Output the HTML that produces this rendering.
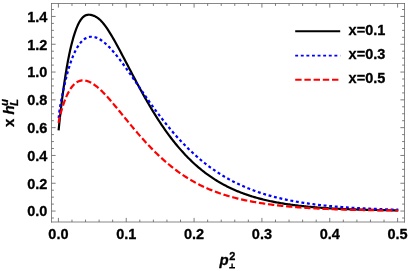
<!DOCTYPE html>
<html><head><meta charset="utf-8"><title>plot</title>
<style>
html,body{margin:0;padding:0;background:#fff;}
body{width:409px;height:271px;overflow:hidden;font-family:"Liberation Sans",sans-serif;}
svg{display:block;will-change:transform;}
text{font-family:"Liberation Sans",sans-serif;font-weight:bold;fill:#000;stroke:#000;stroke-width:0.3px;stroke-linejoin:round;}
</style></head><body>
<svg width="409" height="271" viewBox="0 0 409 271">
<rect x="0" y="0" width="409" height="271" fill="#fff"/>
<clipPath id="c"><rect x="51.5" y="3.5" width="353.0" height="218.5"/></clipPath>
<g clip-path="url(#c)" fill="none" stroke-linejoin="round">
<path d="M58.60,130.39 L58.95,126.79 L59.30,123.44 L59.64,120.18 L59.99,117.00 L60.34,113.90 L60.69,110.87 L61.03,107.90 L61.38,105.00 L61.73,102.16 L62.08,99.39 L62.42,96.67 L62.77,94.02 L63.12,91.43 L63.47,88.89 L63.81,86.41 L64.16,83.99 L64.51,81.62 L64.86,79.31 L65.20,77.05 L65.55,74.84 L65.90,72.69 L66.25,70.58 L66.59,68.53 L66.94,66.52 L67.29,64.57 L67.64,62.66 L67.98,60.80 L68.33,58.98 L68.68,57.22 L69.03,55.49 L69.38,53.81 L69.72,52.18 L70.07,50.59 L70.42,49.04 L70.77,47.53 L71.11,46.06 L71.46,44.64 L71.81,43.25 L72.16,41.91 L73.25,37.93 L74.34,34.32 L75.43,31.07 L76.52,28.15 L77.61,25.56 L78.70,23.28 L79.79,21.31 L80.88,19.62 L81.97,18.22 L83.06,17.08 L84.15,16.20 L85.24,15.54 L86.33,15.09 L87.42,14.83 L88.52,14.72 L89.61,14.75 L90.70,14.89 L91.79,15.13 L92.88,15.45 L93.97,15.86 L95.06,16.35 L96.15,16.94 L97.24,17.62 L98.33,18.40 L99.42,19.29 L100.51,20.30 L101.60,21.41 L102.69,22.64 L103.78,23.97 L104.87,25.39 L105.96,26.89 L107.06,28.47 L108.15,30.12 L109.24,31.83 L110.33,33.60 L111.42,35.41 L112.51,37.26 L113.60,39.15 L114.69,41.07 L115.78,43.02 L116.87,45.00 L117.96,47.00 L119.05,49.02 L120.14,51.06 L121.23,53.11 L122.32,55.17 L123.41,57.25 L124.50,59.33 L125.60,61.41 L126.69,63.50 L127.78,65.60 L128.87,67.69 L129.96,69.78 L131.05,71.86 L132.14,73.94 L133.23,76.02 L134.32,78.09 L135.41,80.14 L136.50,82.19 L137.59,84.23 L138.68,86.25 L139.77,88.27 L140.86,90.26 L141.95,92.25 L143.05,94.21 L144.14,96.17 L145.23,98.10 L146.32,100.02 L147.41,101.92 L148.50,103.80 L149.59,105.66 L150.68,107.50 L151.77,109.32 L152.86,111.12 L153.95,112.90 L155.04,114.66 L156.13,116.40 L157.22,118.12 L158.31,119.82 L159.40,121.49 L160.49,123.14 L161.59,124.78 L162.68,126.38 L163.77,127.97 L164.86,129.54 L165.95,131.08 L167.04,132.60 L168.13,134.10 L169.22,135.58 L170.31,137.03 L171.40,138.46 L172.49,139.87 L173.58,141.26 L174.67,142.63 L175.76,143.97 L176.85,145.30 L177.94,146.60 L179.03,147.88 L180.13,149.14 L181.22,150.38 L182.31,151.60 L183.40,152.80 L184.49,153.98 L185.58,155.14 L186.67,156.28 L187.76,157.40 L188.85,158.49 L189.94,159.57 L191.03,160.63 L192.12,161.68 L193.21,162.70 L194.30,163.70 L195.39,164.69 L196.48,165.66 L197.58,166.61 L198.67,167.54 L199.76,168.46 L200.85,169.36 L201.94,170.24 L203.03,171.10 L204.12,171.95 L205.21,172.79 L206.30,173.60 L207.39,174.40 L208.48,175.19 L209.57,175.96 L210.66,176.71 L211.75,177.45 L212.84,178.18 L213.93,178.89 L215.02,179.59 L216.12,180.27 L217.21,180.94 L218.30,181.60 L219.39,182.25 L220.48,182.88 L221.57,183.49 L222.66,184.10 L223.75,184.69 L224.84,185.27 L225.93,185.84 L227.02,186.40 L228.11,186.95 L229.20,187.48 L230.29,188.01 L231.38,188.52 L232.47,189.02 L233.56,189.51 L234.66,189.99 L235.75,190.46 L236.84,190.93 L237.93,191.38 L239.02,191.82 L240.11,192.25 L241.20,192.68 L242.29,193.09 L243.38,193.50 L244.47,193.89 L245.56,194.28 L246.65,194.66 L247.74,195.03 L248.83,195.40 L249.92,195.75 L251.01,196.10 L252.11,196.44 L253.20,196.77 L254.29,197.10 L255.38,197.42 L256.47,197.73 L257.56,198.04 L258.65,198.33 L259.74,198.63 L260.83,198.91 L261.92,199.19 L263.01,199.46 L264.10,199.73 L265.19,199.99 L266.28,200.25 L267.37,200.49 L268.46,200.74 L269.55,200.98 L270.65,201.21 L271.74,201.44 L272.83,201.66 L273.92,201.88 L275.01,202.09 L276.10,202.30 L277.19,202.50 L278.28,202.70 L279.37,202.89 L280.46,203.08 L281.55,203.27 L282.64,203.45 L283.73,203.63 L284.82,203.80 L285.91,203.97 L287.00,204.13 L288.09,204.29 L289.19,204.45 L290.28,204.61 L291.37,204.76 L292.46,204.90 L293.55,205.05 L294.64,205.19 L295.73,205.32 L296.82,205.46 L297.91,205.59 L299.00,205.72 L300.09,205.84 L301.18,205.96 L302.27,206.08 L303.36,206.20 L304.45,206.31 L305.54,206.42 L306.64,206.53 L307.73,206.64 L308.82,206.74 L309.91,206.84 L311.00,206.94 L312.09,207.03 L313.18,207.13 L314.27,207.22 L315.36,207.31 L316.45,207.40 L317.54,207.48 L318.63,207.57 L319.72,207.65 L320.81,207.73 L321.90,207.80 L322.99,207.88 L324.08,207.95 L325.18,208.02 L326.27,208.09 L327.36,208.16 L328.45,208.23 L329.54,208.30 L330.63,208.36 L331.72,208.42 L332.81,208.48 L333.90,208.54 L334.99,208.60 L336.08,208.66 L337.17,208.71 L338.26,208.77 L339.35,208.82 L340.44,208.87 L341.53,208.92 L342.62,208.97 L343.72,209.02 L344.81,209.06 L345.90,209.11 L346.99,209.15 L348.08,209.20 L349.17,209.24 L350.26,209.28 L351.35,209.32 L352.44,209.36 L353.53,209.40 L354.62,209.43 L355.71,209.47 L356.80,209.51 L357.89,209.54 L358.98,209.57 L360.07,209.61 L361.17,209.64 L362.26,209.67 L363.35,209.70 L364.44,209.73 L365.53,209.76 L366.62,209.79 L367.71,209.82 L368.80,209.84 L369.89,209.87 L370.98,209.90 L372.07,209.92 L373.16,209.95 L374.25,209.97 L375.34,209.99 L376.43,210.02 L377.52,210.04 L378.61,210.06 L379.71,210.08 L380.80,210.10 L381.89,210.12 L382.98,210.14 L384.07,210.16 L385.16,210.18 L386.25,210.20 L387.34,210.21 L388.43,210.23 L389.52,210.25 L390.61,210.27 L391.70,210.28 L392.79,210.30 L393.88,210.31 L394.97,210.33 L396.06,210.34 L397.15,210.36 L398.25,210.37" stroke="#000" stroke-width="2.2"/>
<path d="M58.60,120.13 L58.95,114.87 L59.30,111.91 L59.64,109.41 L59.99,107.17 L60.34,105.12 L60.69,103.20 L61.03,101.37 L61.38,99.61 L61.73,97.89 L62.08,96.20 L62.42,94.54 L62.77,92.88 L63.12,91.25 L63.47,89.63 L63.81,88.03 L64.16,86.46 L64.51,84.90 L64.86,83.38 L65.20,81.89 L65.55,80.42 L65.90,78.99 L66.25,77.59 L66.59,76.22 L66.94,74.89 L67.29,73.58 L67.64,72.31 L67.98,71.06 L68.33,69.85 L68.68,68.67 L69.03,67.51 L69.38,66.38 L69.72,65.28 L70.07,64.21 L70.42,63.17 L70.77,62.15 L71.11,61.15 L71.46,60.19 L71.81,59.24 L72.16,58.33 L73.25,55.60 L74.34,53.10 L75.43,50.82 L76.52,48.75 L77.61,46.87 L78.70,45.18 L79.79,43.67 L80.88,42.33 L81.97,41.16 L83.06,40.13 L84.15,39.26 L85.24,38.53 L86.33,37.93 L87.42,37.46 L88.52,37.11 L89.61,36.88 L90.70,36.75 L91.79,36.73 L92.88,36.81 L93.97,36.99 L95.06,37.25 L96.15,37.60 L97.24,38.04 L98.33,38.54 L99.42,39.13 L100.51,39.78 L101.60,40.50 L102.69,41.28 L103.78,42.12 L104.87,43.01 L105.96,43.97 L107.06,44.97 L108.15,46.02 L109.24,47.11 L110.33,48.25 L111.42,49.44 L112.51,50.66 L113.60,51.91 L114.69,53.20 L115.78,54.52 L116.87,55.87 L117.96,57.25 L119.05,58.66 L120.14,60.09 L121.23,61.54 L122.32,63.01 L123.41,64.49 L124.50,66.00 L125.60,67.52 L126.69,69.05 L127.78,70.60 L128.87,72.15 L129.96,73.71 L131.05,75.28 L132.14,76.86 L133.23,78.44 L134.32,80.03 L135.41,81.61 L136.50,83.20 L137.59,84.79 L138.68,86.38 L139.77,87.96 L140.86,89.55 L141.95,91.12 L143.05,92.70 L144.14,94.27 L145.23,95.84 L146.32,97.39 L147.41,98.95 L148.50,100.49 L149.59,102.02 L150.68,103.55 L151.77,105.07 L152.86,106.58 L153.95,108.07 L155.04,109.56 L156.13,111.04 L157.22,112.50 L158.31,113.96 L159.40,115.40 L160.49,116.83 L161.59,118.25 L162.68,119.65 L163.77,121.04 L164.86,122.42 L165.95,123.78 L167.04,125.14 L168.13,126.47 L169.22,127.80 L170.31,129.11 L171.40,130.40 L172.49,131.69 L173.58,132.95 L174.67,134.21 L175.76,135.45 L176.85,136.67 L177.94,137.88 L179.03,139.08 L180.13,140.26 L181.22,141.42 L182.31,142.58 L183.40,143.71 L184.49,144.84 L185.58,145.95 L186.67,147.04 L187.76,148.12 L188.85,149.19 L189.94,150.24 L191.03,151.27 L192.12,152.30 L193.21,153.31 L194.30,154.30 L195.39,155.28 L196.48,156.25 L197.58,157.20 L198.67,158.14 L199.76,159.07 L200.85,159.98 L201.94,160.88 L203.03,161.76 L204.12,162.64 L205.21,163.50 L206.30,164.34 L207.39,165.18 L208.48,166.00 L209.57,166.81 L210.66,167.60 L211.75,168.39 L212.84,169.16 L213.93,169.92 L215.02,170.66 L216.12,171.40 L217.21,172.12 L218.30,172.84 L219.39,173.54 L220.48,174.23 L221.57,174.90 L222.66,175.57 L223.75,176.23 L224.84,176.87 L225.93,177.51 L227.02,178.13 L228.11,178.75 L229.20,179.35 L230.29,179.94 L231.38,180.53 L232.47,181.10 L233.56,181.66 L234.66,182.22 L235.75,182.76 L236.84,183.30 L237.93,183.82 L239.02,184.34 L240.11,184.85 L241.20,185.35 L242.29,185.84 L243.38,186.32 L244.47,186.79 L245.56,187.26 L246.65,187.72 L247.74,188.16 L248.83,188.60 L249.92,189.04 L251.01,189.46 L252.11,189.88 L253.20,190.29 L254.29,190.69 L255.38,191.09 L256.47,191.48 L257.56,191.86 L258.65,192.23 L259.74,192.60 L260.83,192.96 L261.92,193.32 L263.01,193.66 L264.10,194.00 L265.19,194.34 L266.28,194.67 L267.37,194.99 L268.46,195.31 L269.55,195.62 L270.65,195.92 L271.74,196.22 L272.83,196.52 L273.92,196.80 L275.01,197.09 L276.10,197.36 L277.19,197.64 L278.28,197.90 L279.37,198.16 L280.46,198.42 L281.55,198.67 L282.64,198.92 L283.73,199.16 L284.82,199.40 L285.91,199.63 L287.00,199.86 L288.09,200.09 L289.19,200.31 L290.28,200.52 L291.37,200.73 L292.46,200.94 L293.55,201.15 L294.64,201.35 L295.73,201.54 L296.82,201.73 L297.91,201.92 L299.00,202.11 L300.09,202.29 L301.18,202.46 L302.27,202.64 L303.36,202.81 L304.45,202.98 L305.54,203.14 L306.64,203.30 L307.73,203.46 L308.82,203.61 L309.91,203.76 L311.00,203.91 L312.09,204.06 L313.18,204.20 L314.27,204.34 L315.36,204.47 L316.45,204.61 L317.54,204.74 L318.63,204.87 L319.72,204.99 L320.81,205.12 L321.90,205.24 L322.99,205.36 L324.08,205.47 L325.18,205.59 L326.27,205.70 L327.36,205.81 L328.45,205.92 L329.54,206.02 L330.63,206.12 L331.72,206.22 L332.81,206.32 L333.90,206.42 L334.99,206.51 L336.08,206.61 L337.17,206.70 L338.26,206.79 L339.35,206.87 L340.44,206.96 L341.53,207.04 L342.62,207.12 L343.72,207.20 L344.81,207.28 L345.90,207.36 L346.99,207.44 L348.08,207.51 L349.17,207.58 L350.26,207.65 L351.35,207.72 L352.44,207.79 L353.53,207.86 L354.62,207.92 L355.71,207.98 L356.80,208.05 L357.89,208.11 L358.98,208.17 L360.07,208.23 L361.17,208.28 L362.26,208.34 L363.35,208.40 L364.44,208.45 L365.53,208.50 L366.62,208.55 L367.71,208.60 L368.80,208.65 L369.89,208.70 L370.98,208.75 L372.07,208.80 L373.16,208.84 L374.25,208.89 L375.34,208.93 L376.43,208.97 L377.52,209.01 L378.61,209.06 L379.71,209.10 L380.80,209.13 L381.89,209.17 L382.98,209.21 L384.07,209.25 L385.16,209.28 L386.25,209.32 L387.34,209.35 L388.43,209.39 L389.52,209.42 L390.61,209.45 L391.70,209.48 L392.79,209.51 L393.88,209.54 L394.97,209.57 L396.06,209.60 L397.15,209.63 L398.25,209.66" stroke="#0000ff" stroke-width="2.2" stroke-dasharray="2.9 2.7" stroke-dashoffset="3.6"/>
<path d="M58.60,122.95 L58.95,120.69 L59.30,119.04 L59.64,117.51 L59.99,116.07 L60.34,114.69 L60.69,113.36 L61.03,112.07 L61.38,110.83 L61.73,109.63 L62.08,108.46 L62.42,107.33 L62.77,106.23 L63.12,105.17 L63.47,104.14 L63.81,103.13 L64.16,102.16 L64.51,101.22 L64.86,100.30 L65.20,99.41 L65.55,98.55 L65.90,97.71 L66.25,96.90 L66.59,96.12 L66.94,95.36 L67.29,94.62 L67.64,93.90 L67.98,93.21 L68.33,92.55 L68.68,91.90 L69.03,91.27 L69.38,90.67 L69.72,90.09 L70.07,89.53 L70.42,88.99 L70.77,88.47 L71.11,87.96 L71.46,87.48 L71.81,87.02 L72.16,86.57 L73.25,85.29 L74.34,84.18 L75.43,83.23 L76.52,82.43 L77.61,81.77 L78.70,81.25 L79.79,80.86 L80.88,80.58 L81.97,80.42 L83.06,80.37 L84.15,80.41 L85.24,80.55 L86.33,80.79 L87.42,81.10 L88.52,81.49 L89.61,81.96 L90.70,82.50 L91.79,83.10 L92.88,83.77 L93.97,84.49 L95.06,85.27 L96.15,86.10 L97.24,86.98 L98.33,87.91 L99.42,88.87 L100.51,89.88 L101.60,90.92 L102.69,92.00 L103.78,93.11 L104.87,94.24 L105.96,95.41 L107.06,96.60 L108.15,97.81 L109.24,99.04 L110.33,100.29 L111.42,101.55 L112.51,102.83 L113.60,104.12 L114.69,105.43 L115.78,106.74 L116.87,108.06 L117.96,109.38 L119.05,110.71 L120.14,112.05 L121.23,113.39 L122.32,114.72 L123.41,116.06 L124.50,117.40 L125.60,118.74 L126.69,120.07 L127.78,121.40 L128.87,122.73 L129.96,124.05 L131.05,125.36 L132.14,126.67 L133.23,127.97 L134.32,129.27 L135.41,130.55 L136.50,131.83 L137.59,133.10 L138.68,134.36 L139.77,135.61 L140.86,136.85 L141.95,138.08 L143.05,139.30 L144.14,140.50 L145.23,141.70 L146.32,142.88 L147.41,144.06 L148.50,145.22 L149.59,146.36 L150.68,147.50 L151.77,148.62 L152.86,149.73 L153.95,150.83 L155.04,151.91 L156.13,152.98 L157.22,154.04 L158.31,155.08 L159.40,156.11 L160.49,157.13 L161.59,158.13 L162.68,159.12 L163.77,160.09 L164.86,161.06 L165.95,162.01 L167.04,162.94 L168.13,163.86 L169.22,164.77 L170.31,165.66 L171.40,166.54 L172.49,167.41 L173.58,168.27 L174.67,169.11 L175.76,169.93 L176.85,170.75 L177.94,171.55 L179.03,172.33 L180.13,173.11 L181.22,173.87 L182.31,174.62 L183.40,175.35 L184.49,176.07 L185.58,176.78 L186.67,177.48 L187.76,178.16 L188.85,178.84 L189.94,179.50 L191.03,180.14 L192.12,180.78 L193.21,181.40 L194.30,182.01 L195.39,182.61 L196.48,183.20 L197.58,183.78 L198.67,184.34 L199.76,184.90 L200.85,185.44 L201.94,185.98 L203.03,186.50 L204.12,187.01 L205.21,187.51 L206.30,188.00 L207.39,188.48 L208.48,188.96 L209.57,189.42 L210.66,189.87 L211.75,190.31 L212.84,190.75 L213.93,191.17 L215.02,191.59 L216.12,192.00 L217.21,192.39 L218.30,192.79 L219.39,193.17 L220.48,193.54 L221.57,193.91 L222.66,194.27 L223.75,194.62 L224.84,194.96 L225.93,195.30 L227.02,195.63 L228.11,195.95 L229.20,196.27 L230.29,196.58 L231.38,196.88 L232.47,197.18 L233.56,197.47 L234.66,197.76 L235.75,198.04 L236.84,198.31 L237.93,198.58 L239.02,198.84 L240.11,199.10 L241.20,199.35 L242.29,199.60 L243.38,199.84 L244.47,200.07 L245.56,200.31 L246.65,200.53 L247.74,200.76 L248.83,200.97 L249.92,201.19 L251.01,201.40 L252.11,201.60 L253.20,201.80 L254.29,202.00 L255.38,202.19 L256.47,202.38 L257.56,202.57 L258.65,202.75 L259.74,202.93 L260.83,203.10 L261.92,203.27 L263.01,203.44 L264.10,203.61 L265.19,203.77 L266.28,203.92 L267.37,204.08 L268.46,204.23 L269.55,204.38 L270.65,204.52 L271.74,204.66 L272.83,204.80 L273.92,204.94 L275.01,205.07 L276.10,205.20 L277.19,205.33 L278.28,205.46 L279.37,205.58 L280.46,205.70 L281.55,205.82 L282.64,205.93 L283.73,206.04 L284.82,206.15 L285.91,206.26 L287.00,206.37 L288.09,206.47 L289.19,206.57 L290.28,206.67 L291.37,206.77 L292.46,206.86 L293.55,206.95 L294.64,207.04 L295.73,207.13 L296.82,207.22 L297.91,207.30 L299.00,207.39 L300.09,207.47 L301.18,207.55 L302.27,207.62 L303.36,207.70 L304.45,207.77 L305.54,207.85 L306.64,207.92 L307.73,207.99 L308.82,208.05 L309.91,208.12 L311.00,208.19 L312.09,208.25 L313.18,208.31 L314.27,208.37 L315.36,208.43 L316.45,208.49 L317.54,208.54 L318.63,208.60 L319.72,208.65 L320.81,208.71 L321.90,208.76 L322.99,208.81 L324.08,208.86 L325.18,208.90 L326.27,208.95 L327.36,209.00 L328.45,209.04 L329.54,209.09 L330.63,209.13 L331.72,209.17 L332.81,209.21 L333.90,209.25 L334.99,209.29 L336.08,209.33 L337.17,209.37 L338.26,209.40 L339.35,209.44 L340.44,209.47 L341.53,209.51 L342.62,209.54 L343.72,209.57 L344.81,209.60 L345.90,209.63 L346.99,209.66 L348.08,209.69 L349.17,209.72 L350.26,209.75 L351.35,209.78 L352.44,209.80 L353.53,209.83 L354.62,209.86 L355.71,209.88 L356.80,209.91 L357.89,209.93 L358.98,209.95 L360.07,209.97 L361.17,210.00 L362.26,210.02 L363.35,210.04 L364.44,210.06 L365.53,210.08 L366.62,210.10 L367.71,210.12 L368.80,210.14 L369.89,210.16 L370.98,210.17 L372.07,210.19 L373.16,210.21 L374.25,210.23 L375.34,210.24 L376.43,210.26 L377.52,210.27 L378.61,210.29 L379.71,210.30 L380.80,210.32 L381.89,210.33 L382.98,210.35 L384.07,210.36 L385.16,210.37 L386.25,210.38 L387.34,210.40 L388.43,210.41 L389.52,210.42 L390.61,210.43 L391.70,210.44 L392.79,210.45 L393.88,210.47 L394.97,210.48 L396.06,210.49 L397.15,210.50 L398.25,210.51" stroke="#ff0000" stroke-width="2.2" stroke-dasharray="6.35 2.76" stroke-dashoffset="0.3"/>
</g>
<path d="M51.5,3.0V222.5M404.5,3.0V222.5M51.0,3.5H405.0M51.0,222.0H405.0" fill="none" stroke="#666666" stroke-width="0.78"/>
<path d="M58.40,222.0v-4.1M58.40,3.5v4.1M71.97,222.0v-2.4M71.97,3.5v2.4M85.54,222.0v-2.4M85.54,3.5v2.4M99.10,222.0v-2.4M99.10,3.5v2.4M112.67,222.0v-2.4M112.67,3.5v2.4M126.24,222.0v-4.1M126.24,3.5v4.1M139.81,222.0v-2.4M139.81,3.5v2.4M153.38,222.0v-2.4M153.38,3.5v2.4M166.94,222.0v-2.4M166.94,3.5v2.4M180.51,222.0v-2.4M180.51,3.5v2.4M194.08,222.0v-4.1M194.08,3.5v4.1M207.65,222.0v-2.4M207.65,3.5v2.4M221.22,222.0v-2.4M221.22,3.5v2.4M234.78,222.0v-2.4M234.78,3.5v2.4M248.35,222.0v-2.4M248.35,3.5v2.4M261.92,222.0v-4.1M261.92,3.5v4.1M275.49,222.0v-2.4M275.49,3.5v2.4M289.06,222.0v-2.4M289.06,3.5v2.4M302.62,222.0v-2.4M302.62,3.5v2.4M316.19,222.0v-2.4M316.19,3.5v2.4M329.76,222.0v-4.1M329.76,3.5v4.1M343.33,222.0v-2.4M343.33,3.5v2.4M356.90,222.0v-2.4M356.90,3.5v2.4M370.46,222.0v-2.4M370.46,3.5v2.4M384.03,222.0v-2.4M384.03,3.5v2.4M397.60,222.0v-4.1M397.60,3.5v4.1M51.5,218.00h2.4M404.5,218.00h-2.4M51.5,211.05h4.1M404.5,211.05h-4.1M51.5,204.10h2.4M404.5,204.10h-2.4M51.5,197.15h2.4M404.5,197.15h-2.4M51.5,190.20h2.4M404.5,190.20h-2.4M51.5,183.25h4.1M404.5,183.25h-4.1M51.5,176.30h2.4M404.5,176.30h-2.4M51.5,169.35h2.4M404.5,169.35h-2.4M51.5,162.40h2.4M404.5,162.40h-2.4M51.5,155.45h4.1M404.5,155.45h-4.1M51.5,148.50h2.4M404.5,148.50h-2.4M51.5,141.55h2.4M404.5,141.55h-2.4M51.5,134.60h2.4M404.5,134.60h-2.4M51.5,127.65h4.1M404.5,127.65h-4.1M51.5,120.70h2.4M404.5,120.70h-2.4M51.5,113.75h2.4M404.5,113.75h-2.4M51.5,106.80h2.4M404.5,106.80h-2.4M51.5,99.85h4.1M404.5,99.85h-4.1M51.5,92.90h2.4M404.5,92.90h-2.4M51.5,85.95h2.4M404.5,85.95h-2.4M51.5,79.00h2.4M404.5,79.00h-2.4M51.5,72.05h4.1M404.5,72.05h-4.1M51.5,65.10h2.4M404.5,65.10h-2.4M51.5,58.15h2.4M404.5,58.15h-2.4M51.5,51.20h2.4M404.5,51.20h-2.4M51.5,44.25h4.1M404.5,44.25h-4.1M51.5,37.30h2.4M404.5,37.30h-2.4M51.5,30.35h2.4M404.5,30.35h-2.4M51.5,23.40h2.4M404.5,23.40h-2.4M51.5,16.45h4.1M404.5,16.45h-4.1M51.5,9.50h2.4M404.5,9.50h-2.4" stroke="#666666" stroke-width="0.85" fill="none"/>
<g font-size="14.5"><text x="58.40" y="238.7" text-anchor="middle">0.0</text><text x="126.24" y="238.7" text-anchor="middle">0.1</text><text x="194.08" y="238.7" text-anchor="middle">0.2</text><text x="261.92" y="238.7" text-anchor="middle">0.3</text><text x="329.76" y="238.7" text-anchor="middle">0.4</text><text x="397.60" y="238.7" text-anchor="middle">0.5</text><text x="47.4" y="216.35" text-anchor="end">0.0</text><text x="47.4" y="188.55" text-anchor="end">0.2</text><text x="47.4" y="160.75" text-anchor="end">0.4</text><text x="47.4" y="132.95" text-anchor="end">0.6</text><text x="47.4" y="105.15" text-anchor="end">0.8</text><text x="47.4" y="77.35" text-anchor="end">1.0</text><text x="47.4" y="49.55" text-anchor="end">1.2</text><text x="47.4" y="21.75" text-anchor="end">1.4</text></g>
<g fill="none">
<path d="M295.2,31.2H340.2" stroke="#000" stroke-width="1.9"/>
<path d="M295.2,55.6H340.2" stroke="#0000ff" stroke-width="1.9" stroke-dasharray="2.9 2.7"/>
<path d="M295.2,79.7H340.2" stroke="#ff0000" stroke-width="1.9" stroke-dasharray="6.4 2.8"/>
</g>
<g font-size="14.5">
<text x="348.6" y="34.9">x=0.1</text>
<text x="348.6" y="58.6">x=0.3</text>
<text x="348.6" y="83.1">x=0.5</text>
</g>
<g transform="translate(14.3,126.9) rotate(-90)" font-size="15">
<text x="0" y="0">x <tspan font-style="italic">h</tspan></text>
<text x="20.9" y="3.4" font-size="11.5" font-style="italic">L</text>
<text x="20.9" y="-6.2" font-size="11.5" font-style="italic">u</text>
</g>
<g font-size="15">
<text x="219.6" y="264.6" font-style="italic">p</text>
<text x="229.3" y="259.7" font-size="11">2</text>
<path d="M229.2,267.7H235M232.1,263.5V267.7" stroke="#000" stroke-width="1.4" fill="none"/>
</g>
</svg>
</body></html>
